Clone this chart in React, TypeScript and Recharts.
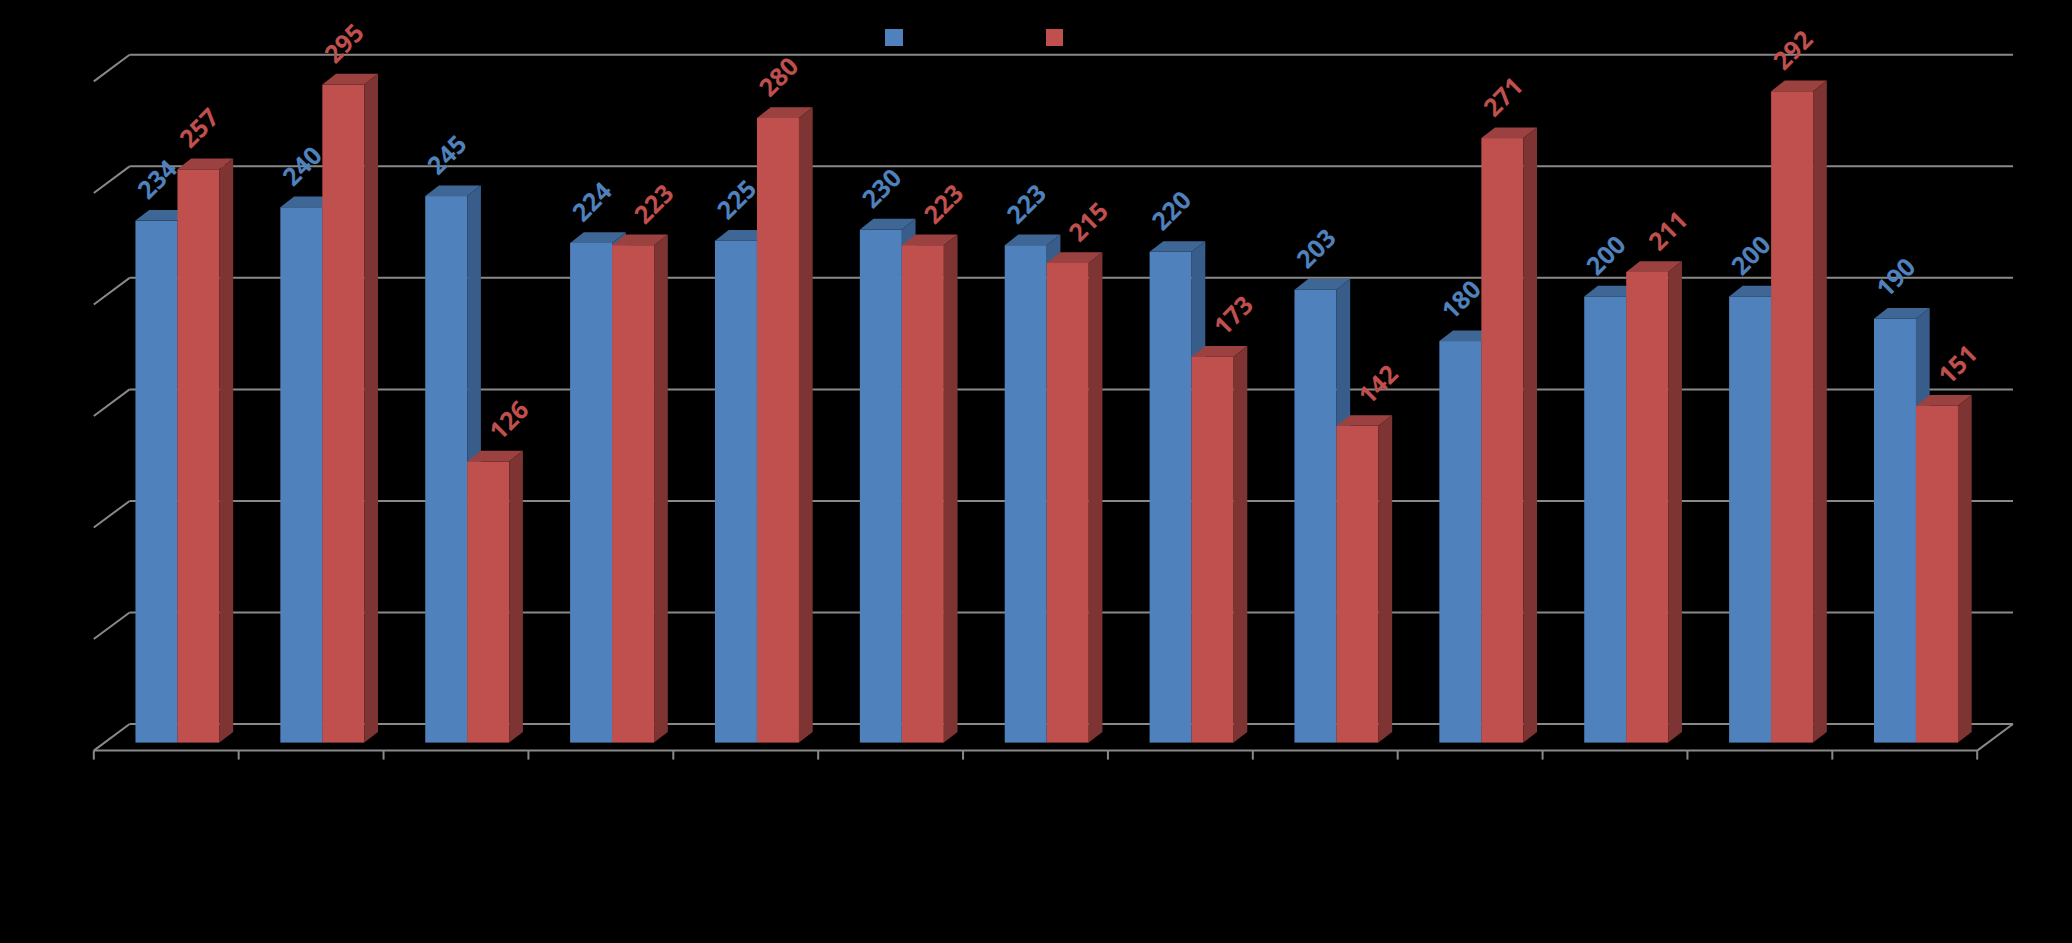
import { BarChart, Bar, XAxis, YAxis, CartesianGrid, Legend, LabelList, ReferenceLine } from 'recharts';

// chart values
const categories = ['1', '2', '3', '4', '5', '6', '7', '8', '9', '10', '11', '12', '13'];
const seriesA = [234, 240, 245, 224, 225, 230, 223, 220, 203, 180, 200, 200, 190];
const seriesB = [257, 295, 126, 223, 280, 223, 215, 173, 142, 271, 211, 292, 151];
const yTicks = [0, 50, 100, 150, 200, 250, 300];
const seriesNames = ['Series 1', 'Series 2'];

const data = categories.map((c, i) => ({ name: c, a: seriesA[i], b: seriesB[i] }));

// fake 3d depth of the bars
const DX = 13.7;
const DY = 10.7;
// back wall / front floor offsets relative to bar plane
const BX = 25;
const BY = 18.6;
const FX = 10.8;
const FY = 8;
const GRID = '#898989';

const BLUE = { front: '#4f81bd', top: '#3f6796', side: '#385d8a', label: '#4f81bd' };
const RED = { front: '#c0504d', top: '#9b4240', side: '#7d3432', label: '#c0504d' };

const Bar3D = (props: any) => {
  const { x, y, width, height, colors } = props;
  if (height == null || height <= 0) return null;
  const r = x + width;
  const b = y + height;
  return (
    <g>
      <rect x={x} y={y} width={width} height={height} fill={colors.front} />
      <polygon points={`${x},${y} ${x + DX},${y - DY} ${r + DX},${y - DY} ${r},${y}`} fill={colors.top} />
      <polygon points={`${r},${y} ${r + DX},${y - DY} ${r + DX},${b - DY} ${r},${b}`} fill={colors.side} />
    </g>
  );
};

// rotated value label; second series label steps aside when the first series is about as tall
const makeLabel = (color: string, second: boolean) => (props: any) => {
  const { x, y, width, value, index } = props;
  let shift = 0;
  if (second && seriesA[index] > seriesB[index] - 15) shift = 20;
  const cx = x + width / 2 + shift;
  const cy = y - 42;
  return (
    <text
      x={cx}
      y={cy}
      transform={`rotate(-45 ${cx} ${cy})`}
      textAnchor="middle"
      dominantBaseline="central"
      fill={color}
      fontFamily="'Open Sans', 'Noto Sans', sans-serif"
      fontWeight={700}
      fontSize={25}
    >
      {value}
    </text>
  );
};

// back wall line + left wall diagonal for each y tick
const GridLine = (props: any) => {
  const { x1, x2, y1 } = props;
  return (
    <g>
      <line x1={x1 - FX} y1={y1 + FY} x2={x1 + BX} y2={y1 - BY} stroke={GRID} strokeWidth={2} />
      <line x1={x1 + BX} y1={y1 - BY} x2={x2 + BX} y2={y1 - BY} stroke={GRID} strokeWidth={2} />
    </g>
  );
};

// front edge of the floor with category tick marks
const Floor = (props: any) => {
  const { x1, x2, y1 } = props;
  const n = categories.length;
  const band = (x2 - x1) / n;
  const fy = y1 + FY;
  return (
    <g>
      <line x1={x1 - FX} y1={fy} x2={x2 - FX} y2={fy} stroke={GRID} strokeWidth={2} />
      <line x1={x2 - FX} y1={fy} x2={x2 + BX} y2={y1 - BY} stroke={GRID} strokeWidth={2} />
      {Array.from({ length: n + 1 }).map((_, i) => (
        <line key={i} x1={x1 - FX + i * band} y1={fy} x2={x1 - FX + i * band} y2={fy + 9} stroke={GRID} strokeWidth={2} />
      ))}
    </g>
  );
};

const LegendBox = () => (
  <div style={{ display: 'flex' }}>
    {[BLUE, RED].map((c, i) => (
      <div key={i} style={{ display: 'flex', alignItems: 'center', width: 160.5 }}>
        <span style={{ width: 17.5, height: 17.5, background: c.front, display: 'inline-block' }} />
        <span style={{ color: '#000', marginLeft: 6, fontFamily: 'Open Sans', fontSize: 16 }}>{seriesNames[i]}</span>
      </div>
    ))}
  </div>
);

const App = () => {
  return (
    <div style={{ position: 'absolute', left: 0, top: 0, width: 2072, height: 943, background: '#000' }}>
      <BarChart
        width={2072}
        height={943}
        data={data}
        margin={{ top: 73.4, right: 84, bottom: 200.4, left: 104.6 }}
        barCategoryGap="21.3%"
        barGap={0}
      >
        <CartesianGrid vertical={false} horizontal={(p: any) => <GridLine {...p} key={p.key} />} />
        <XAxis dataKey="name" hide />
        <YAxis hide domain={[0, 300]} ticks={yTicks} />
        <Legend
          layout="horizontal"
          verticalAlign="middle"
          align="center"
          content={<LegendBox />}
          wrapperStyle={{ top: 26.5, left: 885, width: 340, height: 18 }}
        />
        <ReferenceLine y={0} shape={(p: any) => <Floor {...p} />} />
        <Bar dataKey="a" name={seriesNames[0]} fill={BLUE.front} isAnimationActive={false} shape={(p: any) => <Bar3D {...p} colors={BLUE} />}>
          <LabelList dataKey="a" content={makeLabel(BLUE.label, false)} />
        </Bar>
        <Bar dataKey="b" name={seriesNames[1]} fill={RED.front} isAnimationActive={false} shape={(p: any) => <Bar3D {...p} colors={RED} />}>
          <LabelList dataKey="b" content={makeLabel(RED.label, true)} />
        </Bar>
      </BarChart>
    </div>
  );
};

export default App;
